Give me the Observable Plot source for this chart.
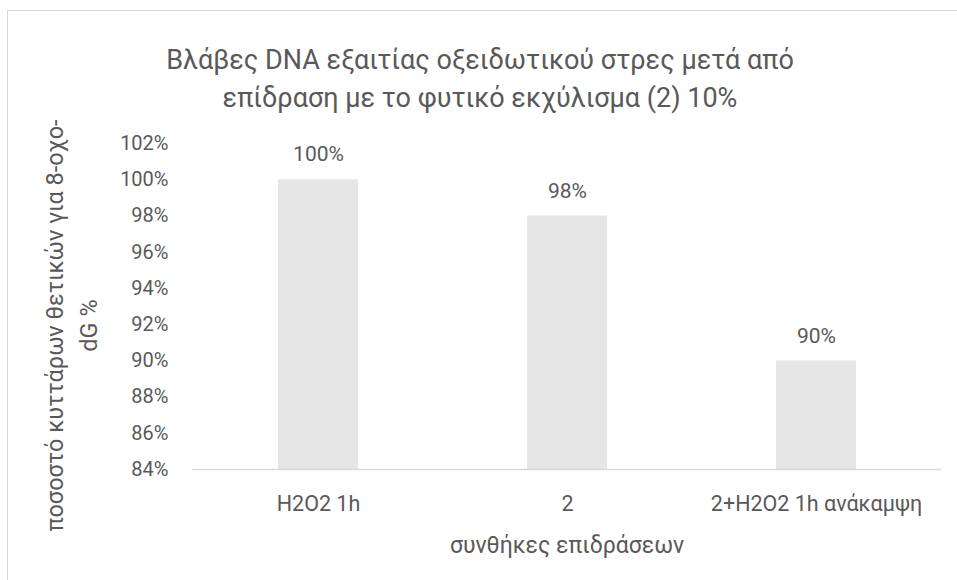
<!DOCTYPE html>
<html><head><meta charset="utf-8">
<script src="https://cdn.jsdelivr.net/npm/d3@7"></script>
<script src="https://cdn.jsdelivr.net/npm/@observablehq/plot@0.6"></script>
<style>
body{margin:0;overflow:hidden;background:#fff;}
#wrap{position:relative;width:957px;height:580px;overflow:hidden;font-family:Roboto,sans-serif;}
#border{position:absolute;left:7px;top:10px;width:1000px;height:1000px;border:1px solid #d9d9d9;box-sizing:border-box;}
#title{position:absolute;left:0;top:41px;width:960px;text-align:center;font-size:27px;line-height:38px;color:#595959;}
#chart{position:absolute;left:0;top:0;}
</style></head><body>
<div id="wrap"><div id="border"></div><div id="chart"></div><div id="title"></div></div>
<script>
const titleLines = ["Βλάβες DNA εξαιτίας οξειδωτικού στρες μετά από", "επίδραση με το φυτικό εκχύλισμα (2) 10%"];
const categories = ["H2O2 1h", "2", "2+H2O2 1h ανάκαμψη"];
const values = [1.00, 0.98, 0.90];
const yTicks = [0.84, 0.86, 0.88, 0.90, 0.92, 0.94, 0.96, 0.98, 1.00, 1.02];
const yDomain = [0.84, 1.02];
const xLabel = "συνθήκες επιδράσεων";
const yLabelLines = ["ποσοστό κυττάρων θετικών για 8-οχο-", "dG %"];

const data = categories.map((c, i) => ({category: c, value: values[i]}));
const pct = d => Math.round(d * 100) + "%";

document.getElementById("title").innerHTML = titleLines.join("<br>");

const chart = Plot.plot({
  width: 957,
  height: 580,
  marginLeft: 192,
  marginRight: 16,
  marginTop: 143,
  marginBottom: 111,
  style: {fontFamily: "Roboto, sans-serif", fontSize: "20px", color: "#595959", background: "transparent", overflow: "visible"},
  x: {domain: categories, paddingInner: 0.68, paddingOuter: 0.34, label: null},
  y: {domain: yDomain, label: null},
  marks: [
    Plot.barY(data, {x: "category", y1: yDomain[0], y2: "value", fill: "#e6e6e6"}),
    Plot.ruleY([yDomain[0]], {stroke: "#d9d9d9", strokeWidth: 1.3}),
    Plot.axisY({ticks: yTicks, tickFormat: pct, tickSize: 0, tickPadding: 24, fontSize: 20, label: null}),
    Plot.axisX({tickSize: 0, tickPadding: 26, fontSize: 21.5, label: null}),
    Plot.text(data, {x: "category", y: "value", text: d => pct(d.value), dy: -25, fontSize: 21, fill: "#595959"}),
    Plot.text([xLabel], {frameAnchor: "bottom", dy: 83, fontSize: 23, fill: "#595959"}),
    Plot.text([yLabelLines.join("\n")], {frameAnchor: "left", textAnchor: "middle", rotate: -90, dx: -123, dy: 19, fontSize: 23.5, lineHeight: 1.45, fill: "#595959"})
  ]
});
document.getElementById("chart").appendChild(chart);
</script>
</body></html>
